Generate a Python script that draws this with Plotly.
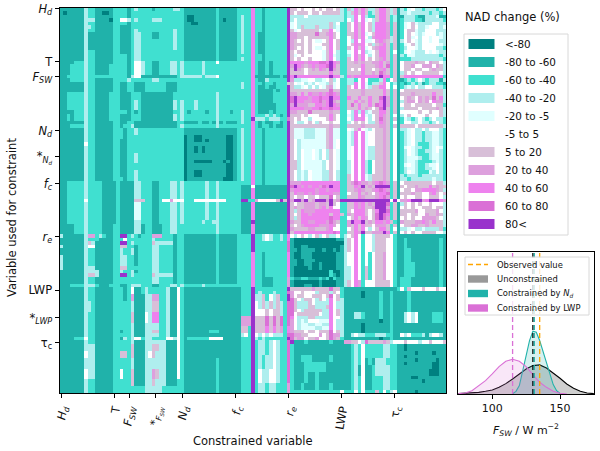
import plotly.graph_objects as go

# category letters -> NAD change bin
bins = ["<-80","-80 to -60","-60 to -40","-40 to -20","-20 to -5","-5 to 5","5 to 20","20 to 40","40 to 60","60 to 80","80<"]
bin_colors = ["#008080","#20B2AA","#40E0D0","#AFEEEE","#E0FFFF","#FFFFFF","#D8BFD8","#DDA0DD","#EE82EE","#DA70D6","#9932CC"]
letters = "abcdefghijk"

# (rows, cell values), top to bottom, for columns 0-50
cols_0_50 = [
(1,"bbbbbbb d cc bbbbb cc cc b c dc ccc bc cccc d dc bbbbbbbbb c bbbbb c"),
(1,"babbbbb d cc bbaab cc cc b c cc ccc cc cccc c cc bbbbbbbbb c bbbbb c"),
(1,"bbbbbbb d cc bbbbb cc cc b c cc ccc cc cccc c cc baabbbbbb c bbbbb c"),
(1,"bbbbbbb d dd bbbba cc ff d c dc ccc dd dccc c cc baabbbbbb c babbb c"),
(1,"bbbbbbb d cc bbbbb cc cc b c cc ccc cc cccc c cc bbaabbbbb c bbbbb c"),
(1,"bbbbbbb d dc bbbbb cc bb b c cc ccc cc cccc c cc bbbbbbbbb c bbbbb c"),
(1,"bbbbbbb d cc bbbbb cc bb b c dc ccc cc cccc d cc bbbbbbbbb c bbbbb c"),
(2,"bbbbbbb d bb bbbbb cc bb b c dd ccc bb cccc d cc bbbbbbbbb c bbbbb c"),
(3,"bbbbbbb d bb bbbbb cc bb b c dd ccc cc cccc d cc bbbbbbbbb c bbbbb c"),
(1,"bbbbbbb d cc bbbbb cc bb b c dd ccc cc cccc c cc bbbbbbbbb c bbbbb c"),
(2,"bbbbbbb d cc bbbbb cc cc b c dd ccc cc cccc c cc bbbbbbbbb c bbbbb c"),
(1,"bbbbccc d cc bbbbb cc cc b c ff dcc bb cccd d cd cccccdccc f ccccc c"),
(3,"bbbcccc d cc bbbbc cc cc b c ff dcc bb cccd d cd cccccdccc c ccccc c"),
(1,"bbccccc d cc ccccc cc cc b d ff bbb bb bbbb b cd dddddcddd f ccccc c"),
(1,"bbbcccc d cc bbbbb cc cc d c cc ccc dd cccc c cc ccccccccc c ccccc c"),
(3,"bbbbbbb d cc bbbbb cc bb c c bb bcc cc ccbb b cc ccccccccc c ccccc c"),
(2,"bbccccc d cc bbbbc cc bb b c cc bbb bb bbbb c cc ccccccccc d ccccc c"),
(3,"bbccccc d cc bbbbc cc bb b c dc bbb bb bbbb d cd cccdccccc d ccccc c"),
(1,"bbbbccc d cc bbbbc cc cc b c bc bbb bb bbbb c cd cbccccbcc d cccbc c"),
(2,"bbcbccc d cc bbbbc cc bb b c cc bbb bb bbbb d cd ccccccccc d ccccc c"),
(1,"bbbbbbb d cc bbbbb cc bb c c bb bbb bb bbbb b cc bbbbcbbcb d bcbbb c"),
(1,"bbbcccc d cc bbbbb cc bc c d bb bbb bb bbbb b cd ccccccccc d ccccc c"),
(2,"bbbbbbb d cc bbbbb cc cb c c dc ccc cc cccc c cc bbbbbbbbb b bbbbb c"),
(1,"bbbbbbb d cc bbbbb cc cb c c cc ccc cc cccc c cc abbaabbbb b bbaab c"),
(1,"bbbbbbb d cc bbbbb cc bb c c cc ccc cc cccc c cc abbaababb b bbaab c"),
(1,"bbbbbbb f cc bbbbb cc bb c c cc ccc cc cccc c cc abbbbbbbb b bbaab c"),
(2,"bbbbbbb d cc bbbbb cc bb c c cc ccc cc cccc c cc abbababbb b bbaab c"),
(2,"bbbbbbb d cc bbbbb cc bb c c dc ccc cc cccc c cc abbbbbbbb b bbaab c"),
(1,"bbbbbbb d cc bbbbb cc bb c c dc ccc cc cccc c cc abbaaaaab b babab c"),
(2,"bbbbbbb d cc bbbbb cc bb c c cc ccc cc cccc c cc abbbbbbbb b bbaab c"),
(2,"bbbbbbb d cc bbbbb cc bb c c dc ccc cc cccc c cc abbaabbbb b bbaab c"),
(1,"bbbbbbb d cc bbbbb cc cb c c dc ccc cc cccc c cc abbbbbbbb b baaab c"),
(5,"bbccccc d cc ccbbb bc bb b b dd ccc bb cccd d cd ccccccdcc d ccccc c"),
(1,"bbccccc f cc ccbbb bc bb b b gg gcc bb cffh f ff cccffffff f ffccc c"),
(5,"bbccccc d cc ccbbb bc bb b b ee ccc bb cccd d cd ccccccdcc d ccccc c"),
(1,"bbccccc d cc ccbbb bc bb b b dd ccc bb cccd d cd cccccdccd d ccccc c"),
(3,"bbbbccc d cc ccbbb cc bb b b dd bcc bb bccd d cc ccccccccc d ccccc c"),
(1,"dbbbbbb d hh cdcbb cc kk c d cb ccc hh hccc b cc bbbbbbbbb c bbbbb c"),
(1,"bbbbbbb d cc cbbbb cc cf c c cc ccc dc cccc b cc bbbbbbbbb c bbbbb c"),
(1,"bbbbbbb d gd bbbbb cc kk c d cc ccc gd dddd b cc bbbbbbbbb c bbbbb c"),
(1,"dbbbbbb d ff bbbbb cc gg c c bc ccc dd cccc b cc bbbbbbbbb c bbbbb c"),
(2,"bbbbbbb d cc bbbbb cc dc c d bc ccc dd cccc b cc bbbbbbbbb c bbbbb c"),
(3,"dbbbbbb d cc bbbbb cc dd c c bc ccc dd cccc b cc bbbbbbbbb c bbbbb c"),
(1,"dbbbbbb d dd bbbbb cc gg c c cc ccc dd cccc b cc bbbbbbbbb c bbbbb c"),
(1,"bbbbbbb d dd dbbbb cc dc c d bc ccc dd cccc b cc bbbbbbbbb c bbbbb c"),
(1,"bbbbbbb d gg dbbbb cc kk c d cc ccc gd dddd b cc bbbbbbbbb c bbbbb c"),
(2,"bbbbbbb d cc bbbbb cc cc c c cc ccc dd cccc b cc bbbbbbbbb c bbbbb c"),
(1,"bbbcccc d dd cbbbc cc bb c d dd ccc bb cccd d cd cccccdccc c ccccc c"),
(2,"bbbbbbb d cc bbbbb cc cb c f bb cdc cc ccdb b fc bbbbbbbbb b bbbbb b"),
(2,"bbbbbbb d cc bbbbb cc cb c h bb bdd hh ccdb b fc bbbbbbbbb b bbbbb b"),
(3,"bbbbbbb d dc bbbbb cc cc c d bb bdd gg ccdb b fc bbbbbbbbb b bbbbb b"),
(3,"bbbbbbb d cc bbbbb cc cc c g bb bfd ii ccdb b fc bbbbbbbbb b bbbbb b"),
(2,"bbbbbbb d cc bbbbb cc cc c d bb bdd dd ccdb b fc bbbbbbbbb b bbbbb b"),
(1,"bbbbbbb d cc bbbbb cc bc c d bb bdd gg ccdb b fc bbbbbbbcc c bbbbb b"),
(1,"bbbbbbb d cc bbbbb cc cc c d bb bdd dd ccdb b fc bbbbbbbbb b bbbbb b"),
(1,"bbbbccc f cc bbbbb cc bd c d ff cdd cc ccff d fc bccccccff f fbbbb b"),
(1,"bbbbbbb d cc bbbbb cc cc c d bb bdd dd ddbb b fc bbbbbbbbb b bbbbb b"),
(2,"bbbbbbb d dd bbbbb cc cc c g bb bdd gg ddbb b fc bbbbbbbbb b bbbbb b"),
(2,"bbbbbbb f dd bbbbb cc gg c g bb bdf gd ddbb b fc bbbbbbbbb b bbbbb b"),
(3,"bbbbbbb d dd bbbbb cc cc c d bb bdd dd ddbb b fc bbbbbbbbb c bbbbb b"),
(3,"bbbbbbb f dd bbbbb cc fc c g bb bdd hg ddbb b fc bbbbbbbbb c bbbbb b"),
(2,"bbbbbbb d cc bbbbb cc cc c g bb bdd gd ddbb b cc bbbbbbbbb c bbbbb b"),
(2,"bbbbbbb d cc bbbbb cc cc c c cc cdd dd dccc c cc bbbbbbbbb c bbbbb b"),
]

cols_51_64 = [
(2,"ccciccbcccccck"),(5,"dcciccbcccccck"),(3,"dccicbbcccccck"),(3,"dccicbbcccccck"),
(1,"ccciccbcccccck"),(1,"dcciccbcccccck"),(4,"cccicbbcbcccck"),(1,"cccibbbbbbbcbk"),
(1,"cccicbbdccccck"),(1,"dcciccbccbcccg"),(1,"dccicbbcbbccck"),(1,"cccicbbbbcbcck"),
(3,"cccicbbbbcccck"),(2,"cccicbbbbbccck"),
(1,"dccicbbbcbccck"),(1,"dccicccdcdcbck"),(1,"dcckdddcdddccj"),(1,"dccicbcbbccbck"),
(1,"cccicbccbcbbck"),(15,"dcciccbcccccck"),(1,"ccciccbcccccck"),(1,"bbbfbbbbbbbbbk"),
(3,"bbbibbbbbbbbbk"),(1,"kkcchfffffgkgk"),(5,"bbbibbbbbbbbbk"),(1,"bbbkbbbbbbbbbk"),
(3,"bbbibbbbbbbbbk"),(2,"ccckccdfdccdci"),(3,"ccckcccccccccj"),(7,"ccciccbcccccci"),
(3,"ccciccbbbcccch"),(1,"ccckccccccccck"),(1,"ccckcdcccdcccj"),(2,"ccckddgcfdgcck"),
(2,"ccckfdgdgdgdcj"),(2,"ccckfffgfggdcj"),(3,"hhhkgggjgjgjcj"),(2,"ggckgggigighci"),
(1,"dfckfdfdfdddcj"),(1,"ccckdcdcccccck"),(4,"ccckcddcdfdccj"),(4,"ccckcdcddfdccj"),
(4,"ccckcfddffdccj"),(3,"ccckcddcddccch"),
]

cols_65_79 = [
(1,"ggfgffgfgfggfgd"),(1,"gfgggfggfgggggd"),(1,"ddddfdddddddddd"),(1,"dfddddddddddddd"),
(1,"efdddddddddgdfc"),(1,"efdgdddgdddgdec"),(1,"gefgggggeggifec"),(1,"hhgggggjgghigfc"),
(1,"hhggfggggggigfc"),(1,"hgfgfgfeefgifgc"),(1,"hgggfgfffggifgc"),(1,"hgfgfgfeefgifgc"),
(1,"gfggfgfffegifdc"),(1,"gefgfffffegiedc"),(1,"gfgffgfffegifdc"),(1,"iiiihiiijjikihc"),
(1,"hkihghihiijkigc"),(1,"gkhgfghgihgkhgc"),(1,"ggggfggggggiggc"),(1,"ikiiiiiiiiikiid"),
(1,"hddeeffddefgdfc"),(1,"gfefdedfeedgefc"),(1,"gddefdfdfeghefc"),(1,"gggggggggggjggc"),
(1,"hhgigihhihijihc"),(1,"jkiiihiijiikiic"),(1,"jkiihhiijhikhgc"),(1,"hkhhhggiihikihc"),
(1,"iiiihhiijiijiic"),(1,"hhgggjggggghggc"),(1,"gggfgfffgggigfc"),(1,"gfgffdffffgigfc"),
(1,"gfddfgfdgffgffc"),(1,"ggggggggggghggc"),(3,"geeedddeeegheec"),(3,"gfdeeeeeeeghefc"),
(3,"gfdfeefedfdgfec"),(3,"ggdfeeeeedfgfec"),(3,"gfdedfeeeddgfdc"),(1,"hhhiiiiiiiiiiic"),
(1,"jkihihiihjikiic"),(1,"hiiiiiihiihiiic"),(1,"gihhihihiiiihhc"),(1,"gfggfggfgggjfgc"),
(1,"hkkhkghkkkhkghk"),(1,"gfgghhhghhgkgfc"),(1,"ghgghhhghigiffc"),(1,"gdgihhhiiiiiiic"),
(1,"gfgiihiiiiigiig"),(1,"gdgiiiiiiiijiic"),(1,"hggiihhiiihjhgc"),(1,"gfghiiiihhhihfc"),
(1,"hgggghhggghiffc"),(1,"giiiiiiiiiiijic"),(1,"fdfgfdfgdfgddfc"),(1,"baaaaaaaaaaaabb"),
(1,"baaaaaaaaaaaaaa"),(1,"baabbaaaaaaaaab"),(1,"bbabbbbaabaabab"),(1,"baabbbaaaaaaabb"),
(1,"baabbbaaaaaaabb"),(1,"bbaabbbaaaaaabb"),(1,"bbaabbaabaaaabb"),(1,"baaaabaabaaaabb"),
(1,"baaaaaaaaaacaab"),(1,"baaaaaaaaaacbab"),(1,"cbbccbbbcbcacbb"),(1,"baaaaaaabaaaabb"),
(1,"baaabbaabaaaabb"),(1,"gggggghggggjggc"),(1,"hffgfffdgggdgfc"),(1,"hfggffgggfgjfgc"),
(1,"jgfdggfdgfdifgd"),(1,"jgdddgfddddifdd"),(1,"jgdddggdddgifdd"),(1,"jgfdgggggddifgd"),
(1,"jfggggggfddifgd"),(1,"ifdddggddddiffd"),(1,"hfdedfffeeeifdd"),(1,"hfdeeddeeddifdd"),
(1,"hfdeeeeddeeifdd"),(1,"hgggfggfgggjfgd"),(1,"jhhggfffhfgjhhd"),(1,"jghhfgghffgjhgc"),
(1,"kbbbcbbbbbbcbbb"),(3,"cbbbbbbbbbbbbbb"),(2,"cbbcccbbbbbcbbb"),(3,"cbbbccccccbbbbb"),
(3,"cbbbcbbcbbbbbbb"),(2,"cbbcbbbcbbbcbbb"),(1,"ccccccccccccccf"),
]

cols_80_94 = [
(1,"cgdigigddgiigdg"),(1,"cdgigigcdgiigdg"),(1,"cddifidccgiigcd"),(1,"cfdifiefdgiigcd"),
(3,"cgfigifgdiiihcg"),(1,"cggigiefgiiihcg"),(1,"cfgigifdhiiihdg"),(1,"cfdifieefhihgdg"),
(1,"cfgihifgdghigcg"),(1,"cgfigiefghiigcg"),(1,"cefifidefgiigcf"),(1,"cdfigifdfgiigcg"),
(1,"cgfigifgfghigcg"),(1,"cgghghgghhighcg"),(1,"cggggiggghigjcg"),(1,"cgfgfiggfghigcg"),
(1,"cggggigghgjhgcg"),(1,"cihiiiiiiikiicg"),(1,"cddcfifcccdicfg"),(1,"cddifiecddgifcd"),
(1,"cgfifiedggiifcf"),(2,"cgggghgggggigcg"),(1,"ciggiggiggjkhcg"),(1,"cggighgiggikhcg"),
(1,"cgjgiggigjikhcg"),(1,"cgggighgfgjkgcg"),(1,"cfdidideggiigcg"),(1,"cedifiedfgihgcf"),
(1,"cfdihifdfgjhgcg"),(1,"cdfgfgfddgihgcf"),(1,"cgggghgggghhgcg"),(1,"cfegifedfgghgcf"),
(4,"cedifieffgghgcf"),(4,"cefifieddgghgcf"),(4,"cdfifidcfgghgcf"),(2,"cgfifiedggghgcf"),
(1,"cghjihhghijihcg"),(1,"cggihkghgkkkkcg"),(1,"cgghihgghijihcg"),(1,"cfggighgfhiijcg"),
(1,"cgggihggghijhcg"),(1,"kkkkkkkkkkkkkfk"),(1,"cggihighgkkkjcg"),(1,"cggihigghkkkhcg"),
(1,"cgfiiigfgikkjcg"),(1,"chgiiigfgjkjicg"),(1,"cfgigihfgjkjhcg"),(1,"chkiikghgiihigc"),
(1,"chgigiggfhhhgcg"),(1,"cfgigifdfgiigcf"),(1,"cggihkgghhhkicg"),(1,"dfgifcffdggggfc"),
(4,"dgfifcffdgggffc"),(4,"dffifcfcfgghffc"),(4,"ddfifcgcfgghffc"),(2,"dgfihcfffggggfc"),
(1,"bbbbbbbbbbbbbbb"),(2,"bbbbbabbbbcbbcb"),(4,"bbbbbbbbbbcbbcb"),(2,"bbbddcbbbbcbbcb"),
(1,"bbbbbbbbbbabbcb"),(3,"bbbbbabbbbbbbcb"),(1,"bbdfddcccdddccb"),(1,"bbbbbbbbbbabbcb"),
(1,"hhggfdjgggghgdf"),(4,"bbcdcfcccccddcc"),(2,"bbcdcfbcbdddccc"),(3,"bbcdbfbbcddddcc"),
(4,"bbcdcfbbcccddcc"),(1,"cccfcfcccgcfcdf"),
]

cols_95_108 = [
(1,"bdcefddcdddcdf"),(1,"bddedddddcddcd"),(1,"bbdddcbbdddebb"),(1,"bcdddccbdddddc"),
(1,"bcefgeddddffdd"),(1,"bcefgfddefffde"),(1,"bcfggeddfffddd"),(1,"bcfgfedefffded"),
(1,"bcfgefdffeffed"),(1,"bdfgfedffeffdd"),(1,"bcefgedfffffed"),(1,"bcdffedffffddc"),
(1,"bcefedddfefedd"),(1,"bdceedddddddcd"),(1,"bcccdddddddddc"),(1,"bfggghggfhggfd"),
(1,"bfgghffhhhfhgd"),(1,"bfggfggffghggd"),(1,"bdgfgffgggggfd"),(1,"bgiiiiiiiiiiic"),
(1,"bbcdcdfdcdddbd"),(1,"bcbcdcdbcddccb"),(1,"bcdedfddffdddc"),(1,"bfgggggggggggd"),
(1,"bggghgggggiggd"),(1,"bfghgfhghgjgid"),(1,"bdghhfhghfihhd"),(1,"bfggfgggggfggc"),
(1,"bdggggfgggghgd"),(1,"bfffffgffgffgd"),(1,"bdfgffffgfffgd"),(1,"bcedcdfdcdfddc"),
(1,"bcffddfddcdfdc"),(1,"bggggfgggggggd"),(1,"bddefddfdfffdc"),(3,"bcdefddcddeedc"),
(1,"bcdefdcccdeedc"),(1,"bcefeddccdefec"),(1,"bcdfedccddefdc"),(1,"bcdfedcccdeedc"),
(1,"bcdeeedccdeedc"),(1,"bcdeedccccdedc"),(1,"bcefedccdeefdc"),(1,"bcdeedccddefdc"),
(1,"bcdfedcccedfdc"),(1,"bdcdddcddddddc"),(1,"bddcddddddeddc"),(1,"bfggggggggfggd"),
(1,"bgfgghgggighgg"),(1,"bfggfhhiiiihgd"),(1,"bggghggffhigfg"),(1,"bfgffggffgggfd"),
(1,"fhhikkkhikkkih"),(1,"bdgfgfgffgfffd"),(1,"bfgfgffgggfggd"),(1,"bgggghffggghfd"),
(1,"bggfggffhgghgd"),(1,"bfgfgffhhhhgfd"),(1,"bhggghhihgiggd"),(1,"bfgghhgghggggd"),
(1,"bddefddeddddgc"),(1,"bfgfgffggggffd"),(1,"bbbbbbbbbbbbbb"),(3,"bbcbbbbbbbbbcb"),
(4,"bbccbbbbbbbbcb"),(4,"bbcccbbbbbbbcb"),(3,"bcccbbbbbbbbcb"),(1,"cfcgfffgfffgff"),
(6,"bbbcbbbbbbbbbb"),(3,"bbdfdfbbbbcccb"),(3,"bbbbbbbbbbbbbb"),(1,"bfdfcccdbdffdb"),
(1,"bbbbbbbbbbbbbb"),(1,"ffgfffdffgfffg"),(2,"bbabbbbbbbbbbb"),(1,"bbbbbabbbbabbb"),
(1,"bbabbbbbbbbbbb"),(1,"bbbbbabbbbbabb"),(1,"bbabbbbbbbaabb"),(1,"bbbbbbbbbbaabb"),
(2,"bbbbbbbbbaaabb"),(1,"bbbbaabbbbbbbb"),(1,"bbbbbbbabbbbbb"),(2,"bbbbbbbbbbbbbb"),
(1,"bbbbbabbbbbbbb"),
]

x_tick_vals = [0.1,15,19.1,26.6,34.2,49.2,64.2,79.1,94]
x_tick_text = ["<i>H<sub>d</sub></i>","T","<i>F<sub>SW</sub></i>","*<sub><i>F<sub>SW</sub></i></sub>","<i>N<sub>d</sub></i>","<i>f<sub>c</sub></i>","<i>r<sub>e</sub></i>","LWP","τ<sub>c</sub>"]
y_tick_vals = [-0.1,14.9,19.1,34.3,41.6,49.4,64.3,79.4,87.2,94.3]
y_tick_text = ["<i>H<sub>d</sub></i>","T","<i>F<sub>SW</sub></i>","<i>N<sub>d</sub></i>","*<sub><i>N<sub>d</sub></i></sub>","<i>f<sub>c</sub></i>","<i>r<sub>e</sub></i>","LWP","*<sub><i>LWP</i></sub>","τ<sub>c</sub>"]

# density panel
unc_x = [75,80,85,90,95,100,105,110,115,120,125,130,135,140,145,150,155,160,165,170,175]
unc_y = [1,2,3,5,8,12,20,31,45,60,75,85,87,78,63,47,30,17,8,3,1]
nd_x = [115,117.5,120,122.5,125,127.5,130,132.5,135,137.5,140,142.5,145,147.5,150]
nd_y = [1,8,25,70,115,160,188,185,160,125,90,55,28,10,2]
lwp_x = [75,80,85,90,95,100,105,110,115,120,125,130,135,140,145,150,155]
lwp_y = [1,3,10,25,40,60,82,98,104,98,82,58,35,20,8,2,0]
observed = 135
unc_mean, nd_mean, lwp_mean = 130, 131, 115
panel_top = 425
panel_labels = ["Observed value","Unconstrained","Constrained by <i>N<sub>d</sub></i>","Constrained by LWP"]
panel_colors = ["#FFA500","#999999","#20B2AA","#DA70D6"]

def expand(spec):
    out = []
    for n, s in spec:
        s = s.replace(" ", "")
        out.extend([s] * n)
    return out

parts = [cols_0_50, cols_51_64, cols_65_79, cols_80_94, cols_95_108]
widths = [51, 14, 15, 15, 14]
problems = []
expanded = []
for idx, (p, w) in enumerate(zip(parts, widths)):
    rows = expand(p)
    if len(rows) != 109:
        problems.append(f"part {idx} rows {len(rows)}")
    for i, (n, s) in enumerate(p):
        if len(s.replace(" ", "")) != w:
            problems.append(f"part {idx} entry {i} len {len(s.replace(' ', ''))}")
    expanded.append(rows)
if problems:
    raise SystemExit("\n".join(problems))

grid = ["".join(col[r] for col in expanded) for r in range(109)]
z = [[letters.index(ch) for ch in row] for row in grid]

scale = []
for i, c in enumerate(bin_colors):
    scale += [[i / 11, c], [(i + 1) / 11, c]]

W, H = 600, 451
fig = go.Figure()
fig.add_trace(go.Heatmap(z=z, colorscale=scale, zmin=-0.5, zmax=10.5, showscale=False, xaxis="x", yaxis="y"))

fig.add_trace(go.Scatter(x=unc_x, y=unc_y, mode="lines", line=dict(color="black", width=1.1), fill="tozeroy",
                         fillcolor="rgba(128,128,128,0.38)", showlegend=False, xaxis="x2", yaxis="y2"))
fig.add_trace(go.Scatter(x=nd_x, y=nd_y, mode="lines", line=dict(color="#20B2AA", width=1.1), fill="tozeroy",
                         fillcolor="rgba(32,178,170,0.18)", showlegend=False, xaxis="x2", yaxis="y2"))
fig.add_trace(go.Scatter(x=lwp_x, y=lwp_y, mode="lines", line=dict(color="#DA70D6", width=1.1), fill="tozeroy",
                         fillcolor="rgba(218,112,214,0.17)", showlegend=False, xaxis="x2", yaxis="y2"))
for v, c in [(lwp_mean, "#DA70D6"), (unc_mean, "black"), (nd_mean, "#20B2AA"), (observed, "#FFA500")]:
    fig.add_trace(go.Scatter(x=[v, v], y=[0, panel_top], mode="lines", line=dict(color=c, width=1.3, dash="5px,3px"),
                             showlegend=False, xaxis="x2", yaxis="y2"))

def px_x(v): return v / W
def px_y(v): return 1 - v / H

shapes = []
annotations = []
def rect(x0, y0, x1, y1, fill, line=None, layer="above"):
    shapes.append(dict(type="rect", xref="paper", yref="paper", x0=px_x(x0), x1=px_x(x1), y0=px_y(y0), y1=px_y(y1),
                       fillcolor=fill, line=dict(color=line or "rgba(0,0,0,0)", width=1 if line else 0), layer=layer))
def label(text, x, y, size, anchor="left", angle=0):
    annotations.append(dict(text=text, x=px_x(x), y=px_y(y), xref="paper", yref="paper", showarrow=False, xanchor=anchor,
                            yanchor="middle", textangle=angle, font=dict(size=size)))

# NAD legend
rect(464, 34, 568, 235, "white", "#d8d8d8")
for i, (name, col) in enumerate(zip(bins, bin_colors)):
    cy = 44 + i * 18
    rect(468.5, cy - 5, 494.5, cy + 5, col)
    label(name, 503, cy, 10.4)

# density legend
rect(465, 257, 589, 315, "rgba(255,255,255,0.8)", "#d8d8d8")
for i, (name, col) in enumerate(zip(panel_labels, panel_colors)):
    cy = 264.5 + i * 14.5
    if i == 0:
        shapes.append(dict(type="line", xref="paper", yref="paper", x0=px_x(468), x1=px_x(488), y0=px_y(cy), y1=px_y(cy),
                           line=dict(color=col, width=1.3, dash="5px,3px"), layer="above"))
    else:
        rect(468, cy - 3.7, 488, cy + 3.7, col)
    label(name, 495, cy, 8.4)

label("NAD change (%)", 463, 17, 11.5)
label("Constrained variable", 252.5, 441, 11.5, "center")
label("Variable used for constraint", 12, 218, 11.5, "center", -90)
label("<i>F<sub>SW</sub></i> / W m<sup>−2</sup>", 526, 430, 11, "center")

font = "DejaVu Sans"
axis_common = dict(automargin=False, showline=True, linecolor="black", linewidth=1, mirror=True, showgrid=False, zeroline=False)
fig.update_layout(
    width=W, height=H, margin=dict(l=0, r=0, t=0, b=0), paper_bgcolor="white", plot_bgcolor="white",
    font=dict(family=font, color="#111111", size=11), showlegend=False,
    xaxis=dict(domain=[59.5/W, 446/W], range=[-0.5, 108.5], tickmode="array", tickvals=x_tick_vals, ticktext=x_tick_text,
               tickangle=-80, ticks="outside", ticklen=4, tickcolor="black", tickfont=dict(size=11.5), **axis_common),
    yaxis=dict(domain=[1-393/H, 1-7.5/H], range=[108.5, -0.5], tickmode="array", tickvals=y_tick_vals, ticktext=y_tick_text,
               ticks="outside", ticklen=4, tickcolor="black", tickfont=dict(size=11.5), **axis_common),
    xaxis2=dict(domain=[458/W, 594/W], range=[74.7, 175.1], anchor="y2", tickvals=[100, 150], ticks="outside", ticklen=4,
                tickcolor="black", tickfont=dict(size=11), **axis_common),
    yaxis2=dict(domain=[1-394/H, 1-252/H], range=[0, panel_top], anchor="x2", showticklabels=False, ticks="", **axis_common),
    shapes=shapes, annotations=annotations,
)
fig.write_html("out.html", config=dict(displayModeBar=False),
               post_script="document.body.style.margin='0';document.body.style.overflow='hidden';")
